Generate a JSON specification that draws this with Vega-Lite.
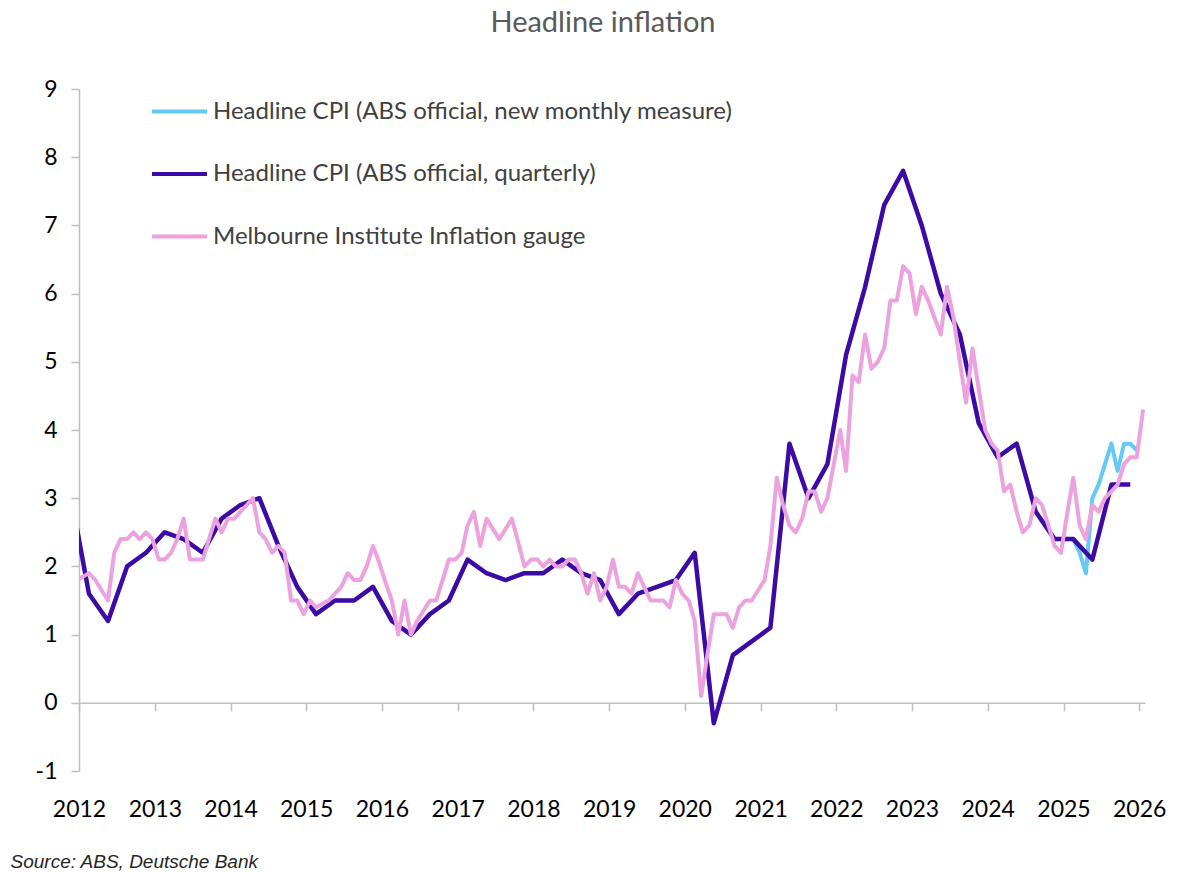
{
  "$schema": "https://vega.github.io/schema/vega-lite/v6.json",
  "width": 1066,
  "height": 682,
  "autosize": {"type": "none"},
  "padding": {"left": 79, "top": 89, "right": 55, "bottom": 101},
  "background": "white",
  "title": {"text": "Headline inflation", "font": "Lato", "fontSize": 29, "fontWeight": "normal", "color": "#595959", "anchor": "middle", "frame": "group", "dx": -9, "offset": 40},
  "config": {
    "view": {"stroke": null},
    "font": "Lato",
    "axis": {"labelFont": "Lato", "labelFontSize": 23, "labelColor": "#000000", "domainColor": "#bfbfbf", "tickColor": "#bfbfbf", "domainWidth": 1.5, "tickWidth": 1.5, "grid": false}
  },
  "datasets": {
    "monthly": [
      {"date": "2025-01-01", "value": 2.4}, {"date": "2025-02-01", "value": 2.4}, {"date": "2025-03-01", "value": 2.4},
      {"date": "2025-04-01", "value": 2.2}, {"date": "2025-05-01", "value": 1.9}, {"date": "2025-06-01", "value": 3.0},
      {"date": "2025-07-01", "value": 3.2}, {"date": "2025-08-01", "value": 3.5}, {"date": "2025-09-01", "value": 3.8},
      {"date": "2025-10-01", "value": 3.4}, {"date": "2025-11-01", "value": 3.8}, {"date": "2025-12-01", "value": 3.8},
      {"date": "2026-01-01", "value": 3.7}
    ],
    "quarterly": [
      {"date": "2011-12-01", "value": 3.1},
      {"date": "2012-03-01", "value": 1.6}, {"date": "2012-06-01", "value": 1.2}, {"date": "2012-09-01", "value": 2.0}, {"date": "2012-12-01", "value": 2.2},
      {"date": "2013-03-01", "value": 2.5}, {"date": "2013-06-01", "value": 2.4}, {"date": "2013-09-01", "value": 2.2}, {"date": "2013-12-01", "value": 2.7},
      {"date": "2014-03-01", "value": 2.9}, {"date": "2014-06-01", "value": 3.0}, {"date": "2014-09-01", "value": 2.3}, {"date": "2014-12-01", "value": 1.7},
      {"date": "2015-03-01", "value": 1.3}, {"date": "2015-06-01", "value": 1.5}, {"date": "2015-09-01", "value": 1.5}, {"date": "2015-12-01", "value": 1.7},
      {"date": "2016-03-01", "value": 1.2}, {"date": "2016-06-01", "value": 1.0}, {"date": "2016-09-01", "value": 1.3}, {"date": "2016-12-01", "value": 1.5},
      {"date": "2017-03-01", "value": 2.1}, {"date": "2017-06-01", "value": 1.9}, {"date": "2017-09-01", "value": 1.8}, {"date": "2017-12-01", "value": 1.9},
      {"date": "2018-03-01", "value": 1.9}, {"date": "2018-06-01", "value": 2.1}, {"date": "2018-09-01", "value": 1.9}, {"date": "2018-12-01", "value": 1.8},
      {"date": "2019-03-01", "value": 1.3}, {"date": "2019-06-01", "value": 1.6}, {"date": "2019-09-01", "value": 1.7}, {"date": "2019-12-01", "value": 1.8},
      {"date": "2020-03-01", "value": 2.2}, {"date": "2020-06-01", "value": -0.3}, {"date": "2020-09-01", "value": 0.7}, {"date": "2020-12-01", "value": 0.9},
      {"date": "2021-03-01", "value": 1.1}, {"date": "2021-06-01", "value": 3.8}, {"date": "2021-09-01", "value": 3.0}, {"date": "2021-12-01", "value": 3.5},
      {"date": "2022-03-01", "value": 5.1}, {"date": "2022-06-01", "value": 6.1}, {"date": "2022-09-01", "value": 7.3}, {"date": "2022-12-01", "value": 7.8},
      {"date": "2023-03-01", "value": 7.0}, {"date": "2023-06-01", "value": 6.0}, {"date": "2023-09-01", "value": 5.4}, {"date": "2023-12-01", "value": 4.1},
      {"date": "2024-03-01", "value": 3.6}, {"date": "2024-06-01", "value": 3.8}, {"date": "2024-09-01", "value": 2.8}, {"date": "2024-12-01", "value": 2.4},
      {"date": "2025-03-01", "value": 2.4}, {"date": "2025-06-01", "value": 2.1}, {"date": "2025-09-01", "value": 3.2}, {"date": "2025-12-01", "value": 3.2}
    ],
    "gauge": [
      {"date": "2012-01-01", "value": 1.8}, {"date": "2012-02-01", "value": 1.85}, {"date": "2012-03-01", "value": 1.9}, {"date": "2012-04-01", "value": 1.8},
      {"date": "2012-05-01", "value": 1.65}, {"date": "2012-06-01", "value": 1.5}, {"date": "2012-07-01", "value": 2.2}, {"date": "2012-08-01", "value": 2.4},
      {"date": "2012-09-01", "value": 2.4}, {"date": "2012-10-01", "value": 2.5}, {"date": "2012-11-01", "value": 2.4}, {"date": "2012-12-01", "value": 2.5},
      {"date": "2013-01-01", "value": 2.4}, {"date": "2013-02-01", "value": 2.1}, {"date": "2013-03-01", "value": 2.1}, {"date": "2013-04-01", "value": 2.2},
      {"date": "2013-05-01", "value": 2.4}, {"date": "2013-06-01", "value": 2.7}, {"date": "2013-07-01", "value": 2.1}, {"date": "2013-08-01", "value": 2.1},
      {"date": "2013-09-01", "value": 2.1}, {"date": "2013-10-01", "value": 2.4}, {"date": "2013-11-01", "value": 2.7}, {"date": "2013-12-01", "value": 2.5},
      {"date": "2014-01-01", "value": 2.7}, {"date": "2014-02-01", "value": 2.7}, {"date": "2014-03-01", "value": 2.8}, {"date": "2014-04-01", "value": 2.9},
      {"date": "2014-05-01", "value": 3.0}, {"date": "2014-06-01", "value": 2.5}, {"date": "2014-07-01", "value": 2.4}, {"date": "2014-08-01", "value": 2.2},
      {"date": "2014-09-01", "value": 2.3}, {"date": "2014-10-01", "value": 2.2}, {"date": "2014-11-01", "value": 1.5}, {"date": "2014-12-01", "value": 1.5},
      {"date": "2015-01-01", "value": 1.3}, {"date": "2015-02-01", "value": 1.5}, {"date": "2015-03-01", "value": 1.4}, {"date": "2015-04-01", "value": 1.45},
      {"date": "2015-05-01", "value": 1.5}, {"date": "2015-06-01", "value": 1.6}, {"date": "2015-07-01", "value": 1.7}, {"date": "2015-08-01", "value": 1.9},
      {"date": "2015-09-01", "value": 1.8}, {"date": "2015-10-01", "value": 1.8}, {"date": "2015-11-01", "value": 2.0}, {"date": "2015-12-01", "value": 2.3},
      {"date": "2016-01-01", "value": 2.05}, {"date": "2016-02-01", "value": 1.75}, {"date": "2016-03-01", "value": 1.5}, {"date": "2016-04-01", "value": 1.0},
      {"date": "2016-05-01", "value": 1.5}, {"date": "2016-06-01", "value": 1.0}, {"date": "2016-07-01", "value": 1.2}, {"date": "2016-08-01", "value": 1.35},
      {"date": "2016-09-01", "value": 1.5}, {"date": "2016-10-01", "value": 1.5}, {"date": "2016-11-01", "value": 1.8}, {"date": "2016-12-01", "value": 2.1},
      {"date": "2017-01-01", "value": 2.1}, {"date": "2017-02-01", "value": 2.2}, {"date": "2017-03-01", "value": 2.6}, {"date": "2017-04-01", "value": 2.8},
      {"date": "2017-05-01", "value": 2.3}, {"date": "2017-06-01", "value": 2.7}, {"date": "2017-07-01", "value": 2.55}, {"date": "2017-08-01", "value": 2.4},
      {"date": "2017-09-01", "value": 2.55}, {"date": "2017-10-01", "value": 2.7}, {"date": "2017-11-01", "value": 2.35}, {"date": "2017-12-01", "value": 2.0},
      {"date": "2018-01-01", "value": 2.1}, {"date": "2018-02-01", "value": 2.1}, {"date": "2018-03-01", "value": 2.0}, {"date": "2018-04-01", "value": 2.1},
      {"date": "2018-05-01", "value": 2.0}, {"date": "2018-06-01", "value": 2.0}, {"date": "2018-07-01", "value": 2.1}, {"date": "2018-08-01", "value": 2.1},
      {"date": "2018-09-01", "value": 1.9}, {"date": "2018-10-01", "value": 1.6}, {"date": "2018-11-01", "value": 1.9}, {"date": "2018-12-01", "value": 1.5},
      {"date": "2019-01-01", "value": 1.7}, {"date": "2019-02-01", "value": 2.1}, {"date": "2019-03-01", "value": 1.7}, {"date": "2019-04-01", "value": 1.7},
      {"date": "2019-05-01", "value": 1.6}, {"date": "2019-06-01", "value": 1.9}, {"date": "2019-07-01", "value": 1.7}, {"date": "2019-08-01", "value": 1.5},
      {"date": "2019-09-01", "value": 1.5}, {"date": "2019-10-01", "value": 1.5}, {"date": "2019-11-01", "value": 1.4}, {"date": "2019-12-01", "value": 1.8},
      {"date": "2020-01-01", "value": 1.6}, {"date": "2020-02-01", "value": 1.5}, {"date": "2020-03-01", "value": 1.2}, {"date": "2020-04-01", "value": 0.1},
      {"date": "2020-05-01", "value": 0.7}, {"date": "2020-06-01", "value": 1.3}, {"date": "2020-07-01", "value": 1.3}, {"date": "2020-08-01", "value": 1.3},
      {"date": "2020-09-01", "value": 1.1}, {"date": "2020-10-01", "value": 1.4}, {"date": "2020-11-01", "value": 1.5}, {"date": "2020-12-01", "value": 1.5},
      {"date": "2021-01-01", "value": 1.65}, {"date": "2021-02-01", "value": 1.8}, {"date": "2021-03-01", "value": 2.3}, {"date": "2021-04-01", "value": 3.3},
      {"date": "2021-05-01", "value": 2.9}, {"date": "2021-06-01", "value": 2.6}, {"date": "2021-07-01", "value": 2.5}, {"date": "2021-08-01", "value": 2.7},
      {"date": "2021-09-01", "value": 3.1}, {"date": "2021-10-01", "value": 3.1}, {"date": "2021-11-01", "value": 2.8}, {"date": "2021-12-01", "value": 3.0},
      {"date": "2022-01-01", "value": 3.5}, {"date": "2022-02-01", "value": 4.0}, {"date": "2022-03-01", "value": 3.4}, {"date": "2022-04-01", "value": 4.8},
      {"date": "2022-05-01", "value": 4.7}, {"date": "2022-06-01", "value": 5.4}, {"date": "2022-07-01", "value": 4.9}, {"date": "2022-08-01", "value": 5.0},
      {"date": "2022-09-01", "value": 5.2}, {"date": "2022-10-01", "value": 5.9}, {"date": "2022-11-01", "value": 5.9}, {"date": "2022-12-01", "value": 6.4},
      {"date": "2023-01-01", "value": 6.3}, {"date": "2023-02-01", "value": 5.7}, {"date": "2023-03-01", "value": 6.1}, {"date": "2023-04-01", "value": 5.9},
      {"date": "2023-05-01", "value": 5.65}, {"date": "2023-06-01", "value": 5.4}, {"date": "2023-07-01", "value": 6.1}, {"date": "2023-08-01", "value": 5.65},
      {"date": "2023-09-01", "value": 5.0}, {"date": "2023-10-01", "value": 4.4}, {"date": "2023-11-01", "value": 5.2}, {"date": "2023-12-01", "value": 4.6},
      {"date": "2024-01-01", "value": 4.0}, {"date": "2024-02-01", "value": 3.8}, {"date": "2024-03-01", "value": 3.7}, {"date": "2024-04-01", "value": 3.1},
      {"date": "2024-05-01", "value": 3.2}, {"date": "2024-06-01", "value": 2.8}, {"date": "2024-07-01", "value": 2.5}, {"date": "2024-08-01", "value": 2.6},
      {"date": "2024-09-01", "value": 3.0}, {"date": "2024-10-01", "value": 2.9}, {"date": "2024-11-01", "value": 2.6}, {"date": "2024-12-01", "value": 2.3},
      {"date": "2025-01-01", "value": 2.2}, {"date": "2025-02-01", "value": 2.8}, {"date": "2025-03-01", "value": 3.3}, {"date": "2025-04-01", "value": 2.6},
      {"date": "2025-05-01", "value": 2.4}, {"date": "2025-06-01", "value": 2.9}, {"date": "2025-07-01", "value": 2.8}, {"date": "2025-08-01", "value": 3.0},
      {"date": "2025-09-01", "value": 3.1}, {"date": "2025-10-01", "value": 3.2}, {"date": "2025-11-01", "value": 3.5}, {"date": "2025-12-01", "value": 3.6},
      {"date": "2026-01-01", "value": 3.6}, {"date": "2026-02-01", "value": 4.3}
    ]
  },
  "encoding": {
    "y": {
      "field": "value", "type": "quantitative",
      "scale": {"domain": [-1, 9], "nice": false, "zero": false},
      "axis": {"title": null, "values": [-1, 0, 1, 2, 3, 4, 5, 6, 7, 8, 9], "labelExpr": "'' + datum.value", "tickSize": 8, "labelPadding": 14}
    }
  },
  "layer": [
    {
      "data": {"name": "monthly"},
      "mark": {"type": "line", "strokeWidth": 4, "strokeJoin": "round", "clip": true},
      "encoding": {
        "x": {
          "field": "date", "type": "temporal",
          "scale": {"type": "utc", "domain": [{"year": 2012, "month": 1, "date": 13, "utc": true}, {"year": 2026, "month": 2, "date": 10, "utc": true}]},
          "axis": {
            "orient": "bottom", "labelExpr": "utcFormat(datum.value, '%Y')",
            "values": [{"year": 2012, "month": 1, "date": 13, "utc": true}, {"year": 2013, "month": 1, "date": 13, "utc": true}, {"year": 2014, "month": 1, "date": 13, "utc": true}, {"year": 2015, "month": 1, "date": 13, "utc": true}, {"year": 2016, "month": 1, "date": 13, "utc": true}, {"year": 2017, "month": 1, "date": 13, "utc": true}, {"year": 2018, "month": 1, "date": 13, "utc": true}, {"year": 2019, "month": 1, "date": 13, "utc": true}, {"year": 2020, "month": 1, "date": 13, "utc": true}, {"year": 2021, "month": 1, "date": 13, "utc": true}, {"year": 2022, "month": 1, "date": 13, "utc": true}, {"year": 2023, "month": 1, "date": 13, "utc": true}, {"year": 2024, "month": 1, "date": 13, "utc": true}, {"year": 2025, "month": 1, "date": 13, "utc": true}, {"year": 2026, "month": 1, "date": 13, "utc": true}],
            "domain": false, "ticks": false, "labelPadding": 27, "labelFlush": false, "labelOverlap": false,
            "title": "Source: ABS, Deutsche Bank", "titleFont": "Liberation Sans", "titleFontStyle": "italic", "titleFontWeight": "normal", "titleFontSize": 19, "titleColor": "#262626",
            "titleAnchor": "start", "titleAlign": "left", "titleBaseline": "alphabetic", "titleX": -69, "titleY": 96
          }
        },
        "color": {
          "datum": "Headline CPI (ABS official, new monthly measure)", "type": "nominal",
          "scale": {"domain": ["Headline CPI (ABS official, new monthly measure)", "Headline CPI (ABS official, quarterly)", "Melbourne Institute Inflation gauge"], "range": ["#66c9f3", "#3c0ba5", "#eba2de"]},
          "legend": {"title": null, "orient": "none", "legendX": 71, "legendY": -7, "symbolType": "stroke", "symbolSize": 3025, "symbolStrokeWidth": 4, "labelFont": "Lato", "labelFontSize": 24, "labelColor": "#404040", "labelOffset": 4, "rowPadding": 20.5, "padding": 0, "labelLimit": 900}
        }
      }
    },
    {
      "data": {"name": "quarterly"},
      "mark": {"type": "line", "strokeWidth": 4.5, "strokeJoin": "round", "clip": true},
      "encoding": {
        "x": {
          "field": "date", "type": "temporal",
          "scale": {"type": "utc", "domain": [{"year": 2012, "month": 1, "date": 13, "utc": true}, {"year": 2026, "month": 2, "date": 10, "utc": true}]},
          "axis": {
            "orient": "bottom", "offset": -68.2, "labels": false, "title": null, "tickSize": 8,
            "values": [{"year": 2012, "month": 1, "date": 13, "utc": true}, {"year": 2013, "month": 1, "date": 13, "utc": true}, {"year": 2014, "month": 1, "date": 13, "utc": true}, {"year": 2015, "month": 1, "date": 13, "utc": true}, {"year": 2016, "month": 1, "date": 13, "utc": true}, {"year": 2017, "month": 1, "date": 13, "utc": true}, {"year": 2018, "month": 1, "date": 13, "utc": true}, {"year": 2019, "month": 1, "date": 13, "utc": true}, {"year": 2020, "month": 1, "date": 13, "utc": true}, {"year": 2021, "month": 1, "date": 13, "utc": true}, {"year": 2022, "month": 1, "date": 13, "utc": true}, {"year": 2023, "month": 1, "date": 13, "utc": true}, {"year": 2024, "month": 1, "date": 13, "utc": true}, {"year": 2025, "month": 1, "date": 13, "utc": true}, {"year": 2026, "month": 1, "date": 13, "utc": true}]
          }
        },
        "color": {"datum": "Headline CPI (ABS official, quarterly)", "type": "nominal"}
      }
    },
    {
      "data": {"name": "gauge"},
      "mark": {"type": "line", "strokeWidth": 4, "strokeJoin": "round", "clip": true},
      "encoding": {
        "x": {
          "field": "date", "type": "temporal",
          "scale": {"type": "utc", "domain": [{"year": 2012, "month": 1, "date": 13, "utc": true}, {"year": 2026, "month": 2, "date": 10, "utc": true}]},
          "axis": null
        },
        "color": {"datum": "Melbourne Institute Inflation gauge", "type": "nominal"}
      }
    }
  ],
  "resolve": {"axis": {"x": "independent"}}
}
